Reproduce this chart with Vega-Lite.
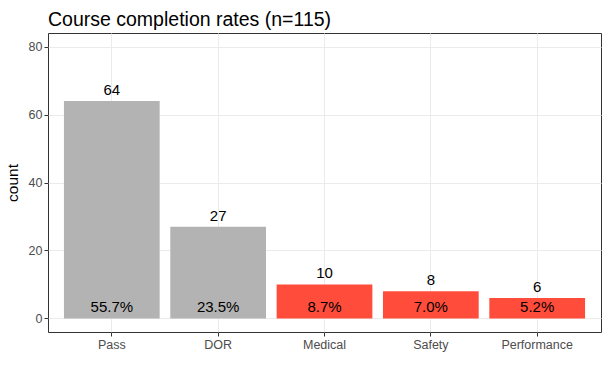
{
  "$schema": "https://vega.github.io/schema/vega-lite/v6.json",
  "autosize": "none",
  "width": 553,
  "height": 299,
  "padding": {"left": 48, "top": 33, "right": 12, "bottom": 47},
  "background": "white",
  "title": {
    "text": "Course completion rates (n=115)",
    "anchor": "start",
    "frame": "group",
    "font": "Liberation Sans",
    "fontSize": 19.5,
    "fontWeight": "normal",
    "color": "#000000",
    "baseline": "alphabetic",
    "offset": 8,
    "dy": 20
  },
  "config": {
    "view": {"stroke": "#333333", "strokeWidth": 1},
    "font": "Liberation Sans",
    "axis": {
      "domain": false,
      "labelFont": "Liberation Sans",
      "labelFontSize": 12.5,
      "labelColor": "#4D4D4D",
      "tickColor": "#333333",
      "tickSize": 4,
      "tickWidth": 1,
      "labelPadding": 2,
      "gridColor": "#EBEBEB",
      "titleFont": "Liberation Sans",
      "titleFontSize": 15.5,
      "titleFontWeight": "normal",
      "titleColor": "#000000"
    }
  },
  "data": {
    "values": [
      {"reason": "Pass", "count": 64, "pct": "55.7%", "group": "completed"},
      {"reason": "DOR", "count": 27, "pct": "23.5%", "group": "completed"},
      {"reason": "Medical", "count": 10, "pct": "8.7%", "group": "dropped"},
      {"reason": "Safety", "count": 8, "pct": "7.0%", "group": "dropped"},
      {"reason": "Performance", "count": 6, "pct": "5.2%", "group": "dropped"}
    ]
  },
  "encoding": {
    "x": {
      "field": "reason",
      "type": "nominal",
      "sort": ["Pass", "DOR", "Medical", "Safety", "Performance"],
      "scale": {"paddingInner": 0.1, "paddingOuter": 0.15},
      "axis": {"title": null, "labelAngle": 0, "grid": true, "gridWidth": 1, "bandPosition": 0.5}
    }
  },
  "layer": [
    {
      "mark": {"type": "bar"},
      "encoding": {
        "y": {
          "field": "count",
          "type": "quantitative",
          "scale": {"domain": [-4, 84], "nice": false, "zero": false},
          "axis": {
            "title": "count",
            "values": [0, 10, 20, 30, 40, 50, 60, 70, 80],
            "labelExpr": "datum.value % 20 === 0 ? datum.label : ''",
            "grid": true,
            "gridWidth": {"condition": {"test": "datum.value % 20 === 0", "value": 1.1}, "value": 0.55},
            "tickOpacity": {"condition": {"test": "datum.value % 20 === 0", "value": 1}, "value": 0},
            "titlePadding": 8
          }
        },
        "y2": {"datum": 0},
        "color": {
          "field": "group",
          "type": "nominal",
          "scale": {"domain": ["completed", "dropped"], "range": ["#B3B3B3", "#FF4C3B"]},
          "legend": null
        }
      }
    },
    {
      "mark": {"type": "text", "baseline": "alphabetic", "dy": -6, "fontSize": 15, "color": "#000000", "font": "Liberation Sans"},
      "encoding": {
        "y": {"field": "count", "type": "quantitative"},
        "text": {"field": "count", "type": "quantitative"}
      }
    },
    {
      "mark": {"type": "text", "baseline": "alphabetic", "dy": -6, "fontSize": 15, "color": "#000000", "font": "Liberation Sans"},
      "encoding": {
        "y": {"datum": 0},
        "text": {"field": "pct", "type": "nominal"}
      }
    }
  ]
}
